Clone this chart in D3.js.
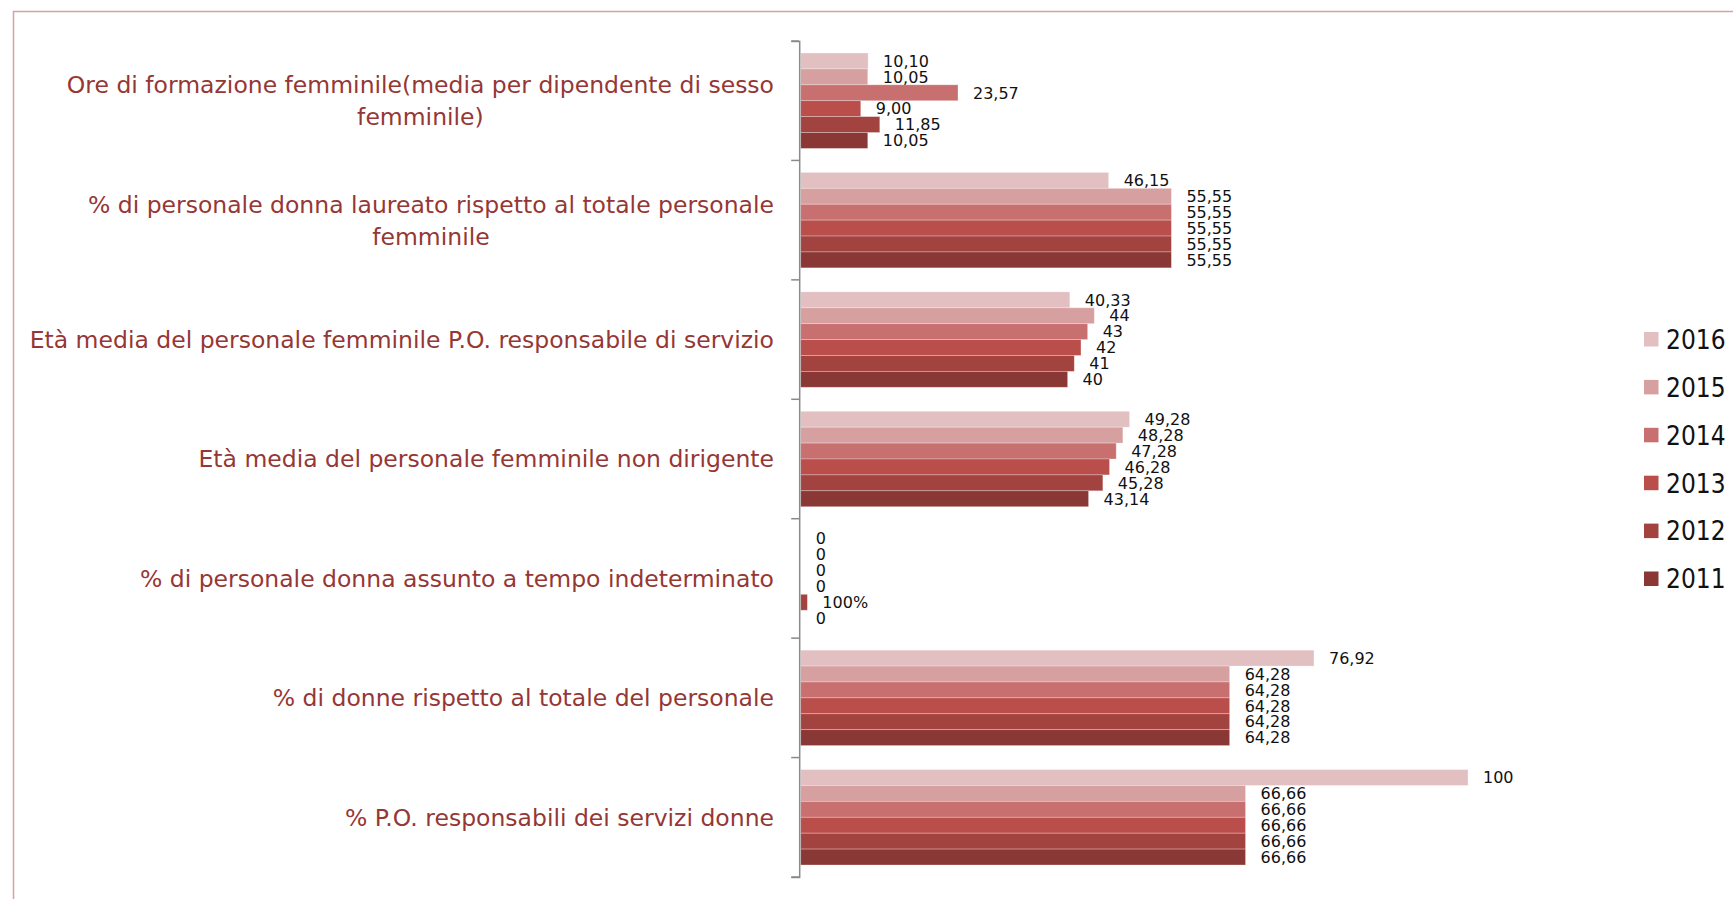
<!DOCTYPE html>
<html>
<head>
<meta charset="utf-8">
<script src="https://cdn.jsdelivr.net/npm/d3@7"></script>
<style>
    body { margin: 0; background: #fff; }
    svg { display: block; }
</style>
</head>
<body>
<svg id="chart"></svg>
<script>
'use strict';

// categories, top to bottom (each one split into its text lines)
const categories = [
    ["Ore di formazione femminile(media per dipendente di sesso", "femminile)"],
    ["% di personale donna laureato rispetto al totale personale", "femminile"],
    ["Età media del personale femminile P.O. responsabile di servizio"],
    ["Età media del personale femminile non dirigente"],
    ["% di personale donna assunto a tempo indeterminato"],
    ["% di donne rispetto al totale del personale"],
    ["% P.O. responsabili dei servizi donne"],
];
const years = ["2016", "2015", "2014", "2013", "2012", "2011"];

// bar lengths per year
const values2016 = [10.10, 46.15, 40.33, 49.28, 0, 76.92, 100];
const values2015 = [10.05, 55.55, 44, 48.28, 0, 64.28, 66.66];
const values2014 = [23.57, 55.55, 43, 47.28, 0, 64.28, 66.66];
const values2013 = [9.00, 55.55, 42, 46.28, 0, 64.28, 66.66];
const values2012 = [11.85, 55.55, 41, 45.28, 1, 64.28, 66.66];
const values2011 = [10.05, 55.55, 40, 43.14, 0, 64.28, 66.66];

// data labels as shown on the chart
const labels2016 = ["10,10", "46,15", "40,33", "49,28", "0", "76,92", "100"];
const labels2015 = ["10,05", "55,55", "44", "48,28", "0", "64,28", "66,66"];
const labels2014 = ["23,57", "55,55", "43", "47,28", "0", "64,28", "66,66"];
const labels2013 = ["9,00", "55,55", "42", "46,28", "0", "64,28", "66,66"];
const labels2012 = ["11,85", "55,55", "41", "45,28", "100%", "64,28", "66,66"];
const labels2011 = ["10,05", "55,55", "40", "43,14", "0", "64,28", "66,66"];

const colors = ["#e2c0c2", "#d7a0a0", "#c8706f", "#b94e4b", "#a34340", "#8a3836"];

const series = [
    { year: "2016", values: values2016, labels: labels2016 },
    { year: "2015", values: values2015, labels: labels2015 },
    { year: "2014", values: values2014, labels: labels2014 },
    { year: "2013", values: values2013, labels: labels2013 },
    { year: "2012", values: values2012, labels: labels2012 },
    { year: "2011", values: values2011, labels: labels2011 },
];

(() => {
    const width = 1733, height = 899;
    const font = "'DejaVu Sans', sans-serif";
    const fontCond = "'DejaVu Sans Condensed', 'DejaVu Sans', sans-serif";
    const svg = d3.select("#chart").attr("width", width).attr("height", height);

    // outer chart border
    svg.append("rect")
        .attr("x", 13.5).attr("y", 11.5)
        .attr("width", width).attr("height", height)
        .attr("fill", "none")
        .attr("stroke", "#dba0a0")
        .attr("stroke-width", 1.5);

    const plot = { left: 800.7, top: 41, bottom: 877 };

    const x = d3.scaleLinear().domain([0, 100]).range([plot.left, plot.left + 667.3]);
    const y0 = d3.scaleBand()
        .domain(d3.range(categories.length))
        .range([plot.top, plot.bottom]);
    const y1 = d3.scaleBand()
        .domain(years)
        .range([0, y0.bandwidth()])
        .paddingOuter(0.755);
    const color = d3.scaleOrdinal().domain(years).range(colors);

    // bars
    const groups = svg.selectAll(".group")
        .data(categories.map((c, i) => i))
        .enter().append("g")
            .attr("transform", i => `translate(0,${y0(i)})`);

    const rows = i => series.map(s => ({ year: s.year, v: s.values[i], label: s.labels[i] }));

    groups.selectAll("rect")
        .data(rows)
        .enter().append("rect")
            .attr("x", x(0))
            .attr("y", d => y1(d.year))
            .attr("width", d => x(d.v) - x(0))
            .attr("height", y1.bandwidth())
            .attr("fill", d => color(d.year))
            .attr("stroke", "rgba(255,255,255,0.35)")
            .attr("stroke-width", 0.8);

    groups.selectAll(".value")
        .data(rows)
        .enter().append("text")
            .attr("x", d => x(d.v) + 15)
            .attr("y", d => y1(d.year) + y1.bandwidth() / 2)
            .attr("dy", "0.36em")
            .style("font-family", font)
            .style("font-size", "16px")
            .attr("fill", "#111")
            .text(d => d.label);

    // category axis
    const axis = svg.append("g")
        .attr("transform", `translate(${plot.left - 1.5},0)`)
        .call(d3.axisLeft(y0).tickSizeInner(0).tickSizeOuter(8).tickFormat(""));
    axis.select(".domain").attr("stroke", "#8a8a8a").attr("stroke-width", 1.5);
    axis.selectAll(".tick").remove();
    axis.selectAll(".sep")
        .data(d3.range(categories.length + 1))
        .enter().append("line")
            .attr("x1", -8).attr("x2", 0)
            .attr("y1", i => plot.top + i * y0.step())
            .attr("y2", i => plot.top + i * y0.step())
            .attr("stroke", "#8a8a8a")
            .attr("stroke-width", 1.5);

    // category labels, lines centred on each other, block right-aligned
    const labelRight = 774;
    const lineH = 32;
    categories.forEach((lines, i) => {
        const t = svg.append("text")
            .style("font-family", font)
            .style("font-size", "23.5px")
            .attr("fill", "#953735")
            .attr("text-anchor", "middle");
        lines.forEach((ln, k) => {
            t.append("tspan")
                .attr("y", y0(i) + y0.bandwidth() / 2 + (k - (lines.length - 1) / 2) * lineH)
                .attr("dy", "0.36em")
                .text(ln);
        });
        const w = d3.max(t.selectAll("tspan").nodes(), n => n.getComputedTextLength());
        t.selectAll("tspan").attr("x", labelRight - w / 2);
    });

    // legend
    const legend = svg.append("g").attr("transform", "translate(1644,332)");
    const item = legend.selectAll(".item")
        .data(years)
        .enter().append("g")
            .attr("transform", (d, i) => `translate(0,${i * 47.9})`);
    item.append("rect")
        .attr("width", 14.5).attr("height", 14.5)
        .attr("fill", d => color(d));
    item.append("text")
        .attr("x", 22)
        .attr("y", 7.5)
        .attr("dy", "0.36em")
        .style("font-family", fontCond)
        .style("font-size", "26px")
        .attr("fill", "#111")
        .text(d => d);
})();
</script>
</body>
</html>
